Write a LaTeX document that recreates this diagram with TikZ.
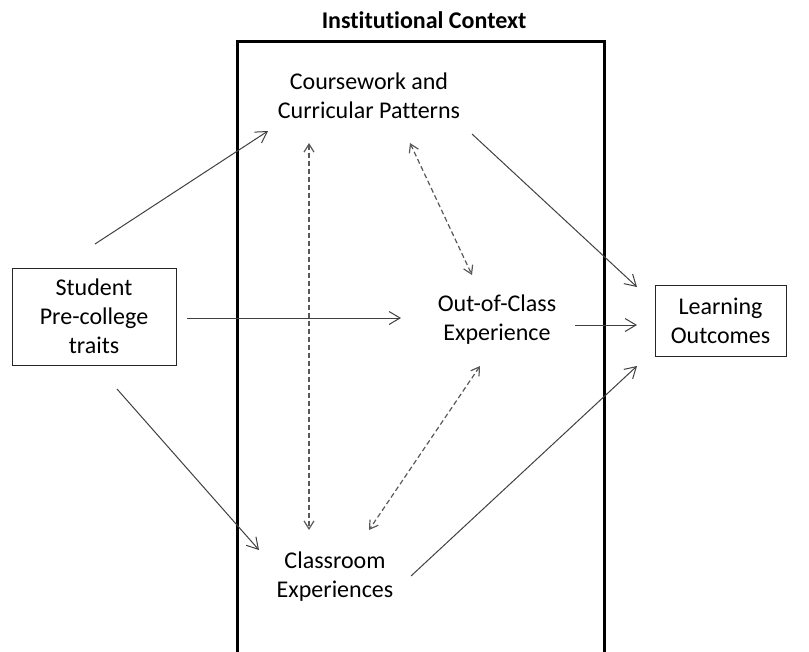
\documentclass[tikz,border=0pt]{standalone}
\usepackage{fontspec}
\setmainfont{Carlito}[Ligatures={NoCommon}]
\usepackage{tikz}
\usetikzlibrary{positioning}
\usetikzlibrary{arrows.meta}
\tikzset{label text/.style={font=\fontsize{24}{29}\selectfont, align=center, inner sep=0pt}}
\tikzset{outcome box/.style={label text, draw=black!85, line width=1pt}}
\tikzset{flow/.style={draw=black!75, line width=1pt, -{Straight Barb[length=11pt,width=13pt]}}}
\tikzset{link/.style={draw=black!65, line width=1.2pt, dash pattern=on 5pt off 3pt, {Straight Barb[length=8pt,width=10pt]}-{Straight Barb[length=8pt,width=10pt]}}}

\begin{document}
\begin{tikzpicture}[x=1pt,y=1pt]
\useasboundingbox (0,0) rectangle (809,-651);
% institutional context frame
\node[font=\fontsize{24}{28}\selectfont\bfseries] (ctx) at (424,-20) {Institutional Context};
\draw[line width=3pt] (237,-652) -- (237,-41) -- (604,-41) -- (604,-652);
% nodes
\node[outcome box, minimum width=164, minimum height=97] (stud) at (94,-316.5) {Student\\Pre-college\\traits};
\node[outcome box, minimum width=131, minimum height=71] (lo) at (720.5,-320.5) {Learning\\Outcomes};
\node[label text] (cw) at (369,-96) {Coursework and\\Curricular Patterns};
\node[label text] (ooc) at (497,-320) {Out-of-Class\\Experience};
\node[label text] (cls) at (335,-577) {Classroom\\Experiences};
% solid arrows
\draw[flow] ([shift={(1,72.5)}]stud.center) -- ([shift={(-101,-35)}]cw.center);
\draw[flow] ([shift={(93,-1.5)}]stud.center) -- ([shift={(-96,2)}]ooc.center);
\draw[flow] ([shift={(23,-72.5)}]stud.center) -- ([shift={(-76,27)}]cls.center);
\draw[flow] ([shift={(103,-38)}]cw.center) -- ([shift={(-83.5,33.5)}]lo.center);
\draw[flow] ([shift={(78,-5)}]ooc.center) -- ([shift={(-83.5,-4.5)}]lo.center);
\draw[flow] ([shift={(76,1)}]cls.center) -- ([shift={(-83.5,-45.5)}]lo.center);
% dashed links
\draw[link] ([shift={(-60,-47)}]cw.center) -- ([shift={(-26,47)}]cls.center);
\draw[link] ([shift={(41,-47)}]cw.center) -- ([shift={(-25,45)}]ooc.center);
\draw[link] ([shift={(-17,-46)}]ooc.center) -- ([shift={(34,47)}]cls.center);
\end{tikzpicture}
\end{document}
